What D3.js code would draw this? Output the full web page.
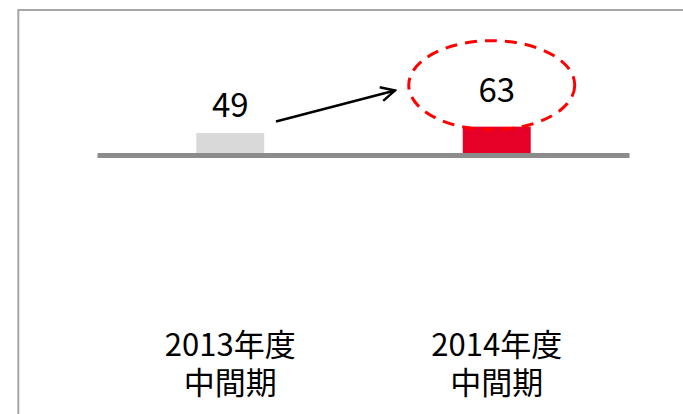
<!DOCTYPE html>
<html>
<head>
<meta charset="utf-8">
<script src="https://cdn.jsdelivr.net/npm/d3@7"></script>
<style>
  html, body { margin: 0; padding: 0; background: #fff; }
  svg { display: block; }
  text { font-family: "Noto Sans CJK JP", "Noto Sans", sans-serif; }
</style>
</head>
<body>
<svg id="chart" width="683" height="414"></svg>
<script>
// Interim results: previous vs current half-year
const categories = ["2013年度\n中間期", "2014年度\n中間期"];
const values = [49, 63];
const barColors = ["#d9d9d9", "#e60028"];
const highlightIndex = 1;

const svg = d3.select("#chart");
const W = 683, H = 414;

// Frame (open on the right and bottom)
svg.append("path")
  .attr("d", `M${W + 5},10 H18.3 V${H + 5}`)
  .attr("fill", "none")
  .attr("stroke", "#a6a6a6")
  .attr("stroke-width", 2);

const x = d3.scaleBand()
  .domain(categories)
  .range([97, 630])
  .paddingInner(0.745)
  .paddingOuter(0.3725);

const baseY = 155.5;
const y = d3.scaleLinear().domain([0, 100]).range([baseY, baseY - 45.8]);

// Bars
svg.selectAll("rect.bar")
  .data(values)
  .join("rect")
  .attr("class", "bar")
  .attr("x", (d, i) => x(categories[i]))
  .attr("width", x.bandwidth())
  .attr("y", d => y(d))
  .attr("height", d => y(0) - y(d))
  .attr("fill", (d, i) => barColors[i]);

// Baseline
svg.append("line")
  .attr("x1", 97.5).attr("x2", 629.5)
  .attr("y1", baseY).attr("y2", baseY)
  .attr("stroke", "#8c8c8c")
  .attr("stroke-width", 5);

const cx = i => x(categories[i]) + x.bandwidth() / 2;

// Value labels
svg.selectAll("text.value")
  .data(values)
  .join("text")
  .attr("class", "value")
  .attr("x", (d, i) => cx(i))
  .attr("y", (d, i) => y(d) - (i === highlightIndex ? 25 : 16))
  .attr("text-anchor", "middle")
  .attr("font-size", 33)
  .attr("fill", "#000")
  .text(d => d);

// Dashed ellipse around the highlighted value
svg.append("ellipse")
  .attr("cx", cx(highlightIndex) - 5)
  .attr("cy", y(values[highlightIndex]) - 41.5)
  .attr("rx", 83)
  .attr("ry", 44.5)
  .attr("fill", "none")
  .attr("stroke", "#ff0000")
  .attr("stroke-width", 3)
  .attr("stroke-dasharray", "12 8");

// Growth arrow
svg.append("defs").append("marker")
  .attr("id", "open-arrow")
  .attr("viewBox", "0 0 20 20")
  .attr("refX", 18).attr("refY", 10)
  .attr("markerWidth", 20).attr("markerHeight", 20)
  .attr("markerUnits", "userSpaceOnUse")
  .attr("orient", "auto")
  .append("path")
  .attr("d", "M4,3 L18,10 L4,17")
  .attr("fill", "none")
  .attr("stroke", "#000")
  .attr("stroke-width", 2.4)
  .attr("stroke-linejoin", "miter");

svg.append("line")
  .attr("x1", 276).attr("y1", 121.5)
  .attr("x2", 395).attr("y2", 90.5)
  .attr("stroke", "#000")
  .attr("stroke-width", 2.4)
  .attr("marker-end", "url(#open-arrow)");

// Category labels, one text element per line
const lines = categories.flatMap((c, i) =>
  c.split("\n").map((t, k) => ({ t, i, k })));

svg.selectAll("text.cat")
  .data(lines)
  .join("text")
  .attr("class", "cat")
  .attr("x", d => cx(d.i))
  .attr("y", d => 356 + d.k * 38)
  .attr("text-anchor", "middle")
  .attr("font-size", 31)
  .attr("fill", "#000")
  .text(d => d.t);
</script>
</body>
</html>
